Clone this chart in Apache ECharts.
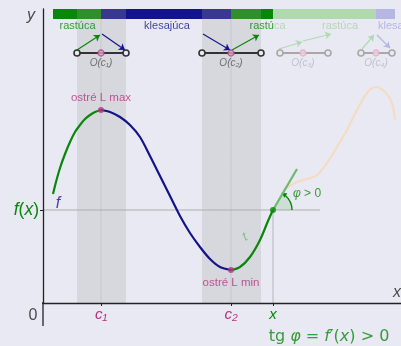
<!DOCTYPE html>
<html>
<head>
<meta charset="utf-8">
<script src="https://cdn.jsdelivr.net/npm/echarts@6/dist/echarts.min.js"></script>
<style>
html, body { margin: 0; padding: 0; background: #e9e9f3; }
#chart { width: 401px; height: 346px; }
</style>
</head>
<body>
<div id="chart"></div>
<script>
// points of f, [x, y]
const riseLeft = [[1.0, 10.9], [1.3, 12.1], [1.7, 13.5], [2.2, 14.9], [2.7, 16.1], [3.2, 17.1], [3.7, 17.8], [4.2, 18.4], [4.7, 18.8], [5.2, 19.1], [5.8, 19.3]];
const fallMid = [[5.8, 19.3], [6.7, 19.1], [7.7, 18.6], [8.7, 17.8], [9.7, 16.6], [10.7, 14.7], [11.7, 12.7], [12.7, 10.7], [13.7, 8.7], [14.7, 7.0], [15.7, 5.6], [16.7, 4.4], [17.7, 3.6], [18.8, 3.3]];
const riseRight = [[18.8, 3.3], [19.7, 3.6], [20.7, 4.6], [21.7, 6.3], [22.5, 8.2], [23.0, 9.3]];
const fadedTail = [[24.0, 11.3], [25.4, 12.1], [26.4, 12.4], [27.4, 12.8], [28.4, 14.0], [29.4, 15.6], [30.4, 17.3], [31.4, 19.3], [32.4, 21.0], [33.3, 21.6], [34.2, 21.1], [34.9, 20.0], [35.2, 18.3]];

const c1 = 5.8, c2 = 18.8, xPt = 23.0, fx = 9.3;
const tangentEnd = [25.4, 13.4];
const bands = [[3.4, 8.3], [15.9, 21.8]];
// monotonicity strip: from, to, kind
const strip = [[1.0, 5.8, 'up'], [5.8, 18.8, 'down'], [18.8, 23.0, 'up'], [23.0, 33.3, 'upFaded'], [33.3, 35.2, 'downFaded']];
// neighbourhoods O(c): left, centre, right, name, faded
const hoods = [[3.4, 5.8, 8.3, 'O(c₁)', false], [15.9, 18.8, 21.8, 'O(c₂)', false], [23.7, 26.0, 28.5, 'O(c₃)', true], [31.8, 33.3, 34.9, 'O(c₄)', true]];
// little arrows over each O(c): x0, y0, x1, y1, kind
const arrows = [
  [3.4, 25.3, 5.7, 26.8, 'up'], [5.9, 26.9, 8.2, 25.3, 'down'],
  [16.0, 26.9, 18.7, 25.3, 'down'], [18.9, 25.3, 21.6, 26.8, 'up'],
  [23.6, 25.4, 25.9, 26.1, 'upFaded'], [26.0, 26.2, 28.8, 26.9, 'upFaded'],
  [31.9, 25.4, 33.1, 26.8, 'upFaded'], [33.4, 26.8, 34.7, 25.5, 'downFaded']
];

const GREEN = '#0a870a', NAVY = '#14148a', MAG = '#b3327f';
const kindColor = { up: GREEN, down: NAVY, upFaded: '#b0d9b0', downFaded: '#b6b6e2' };
const FONT = 'Liberation Sans, DejaVu Sans, sans-serif';
const barLow = 28.4, barHigh = 29.4;

// text notes: text, x, y, style
const notes = [
  ['rastúca', 3.45, 27.75, 'up'],
  ['klesajúca', 12.4, 27.75, 'down'],
  ['{a|rastú}{b|ca}', 22.45, 27.75, 'mixed'],
  ['rastúca', 29.7, 27.75, 'upFaded'],
  ['klesajúca', 33.5, 27.75, 'downFadedLeft'],
  ['y', -1.2, 28.7, 'axisName'],
  ['x', 35.4, 1.0, 'axisName'],
  ['0', -1.0, -1.3, 'zero'],
  ['f', 1.5, 9.9, 'fName'],
  ['{i|φ} > 0', 26.4, 10.9, 'phi'],
  ['t', 20.2, 6.6, 'tangent'],
  ['{n|tg }{i|φ}{n| = }{i|f}{n|′(}{i|x}{n|) > 0}', 28.6, -3.4, 'formula']
];

const MATH = 'DejaVu Sans, sans-serif';
const noteStyle = {
  up: { color: GREEN, fontSize: 11 },
  down: { color: NAVY, fontSize: 11 },
  upFaded: { color: '#a6d3a6', fontSize: 11 },
  downFadedLeft: { color: '#aaaadc', fontSize: 11, align: 'left' },
  mixed: { fontSize: 11, rich: { a: { color: GREEN, fontSize: 11, fontFamily: FONT }, b: { color: '#a6d3a6', fontSize: 11, fontFamily: FONT } } },
  axisName: { color: '#222', fontSize: 16, fontStyle: 'italic' },
  zero: { color: '#222', fontSize: 16 },
  fName: { color: NAVY, fontSize: 16, fontStyle: 'italic' },
  phi: { color: GREEN, fontSize: 12, rich: { i: { color: GREEN, fontSize: 12, fontStyle: 'italic', fontFamily: FONT } } },
  tangent: { color: '#6fb86f', fontSize: 13, fontStyle: 'italic', rotate: 30 },
  formula: { color: GREEN, fontSize: 16, rich: {
    n: { color: GREEN, fontSize: 16, fontFamily: MATH },
    i: { color: GREEN, fontSize: 16, fontStyle: 'italic', fontFamily: MATH } } }
};

const chart = echarts.init(document.getElementById('chart'));

function rectSeries (data, colorOf, z) {
  return {
    type: 'custom',
    z: z,
    silent: true,
    renderItem (params, api) {
      const a = api.coord([api.value(0), api.value(3)]);
      const b = api.coord([api.value(1), api.value(2)]);
      return {
        type: 'rect',
        shape: { x: a[0], y: a[1], width: b[0] - a[0], height: b[1] - a[1] },
        style: { fill: colorOf(params.dataIndex) }
      };
    },
    encode: { x: [0, 1], y: [2, 3] },
    data: data
  };
}

function curve (pts, color, z, width) {
  return {
    type: 'line',
    z: z,
    data: pts,
    showSymbol: false,
    smooth: 0.3,
    clip: false,
    lineStyle: { color: color, width: width || 2.2 },
    silent: true
  };
}

const series = [
  rectSeries(strip.map(s => [s[0], s[1], barLow, barHigh]), i => kindColor[strip[i][2]], 1),
  rectSeries(bands.map(b => [b[0], b[1], 0, barHigh]), () => 'rgba(165,165,158,0.25)', 2),
  // guide lines
  curve([[c1, 0], [c1, barLow]], '#c6c6cc', 3, 1),
  curve([[c2, 0], [c2, barLow]], '#c6c6cc', 3, 1),
  curve([[xPt, 0], [xPt, fx]], '#b4b4b8', 3, 1),
  curve([[0, fx], [27.7, fx]], '#acacae', 3, 1),
  // axis lines run a bit past the origin
  curve([[0, -2.3], [0, 0]], '#222', 4, 1.3),
  curve([[-2.3, 0], [0, 0]], '#222', 4, 1.3),
  // angle wedge and arc
  {
    type: 'custom',
    z: 4,
    silent: true,
    renderItem (params, api) {
      const c = api.coord([api.value(0), api.value(1)]);
      const r = 19, a = 60 * Math.PI / 180;
      const tip = [c[0] + r * Math.cos(a), c[1] - r * Math.sin(a)];
      const d = [-Math.sin(a), -Math.cos(a)];
      const n = [d[1], -d[0]];
      return {
        type: 'group',
        children: [
          { type: 'sector', shape: { cx: c[0], cy: c[1], r0: 0, r: r, startAngle: -a, endAngle: 0, clockwise: true }, style: { fill: 'rgba(60,170,60,0.16)' } },
          { type: 'arc', shape: { cx: c[0], cy: c[1], r: r, startAngle: 0, endAngle: -a + 0.2, clockwise: false }, style: { stroke: GREEN, lineWidth: 1.4, fill: 'none' } },
          { type: 'polygon', shape: { points: [
            [tip[0] + d[0] * 1.5, tip[1] + d[1] * 1.5],
            [tip[0] - d[0] * 4 + n[0] * 2.6, tip[1] - d[1] * 4 + n[1] * 2.6],
            [tip[0] - d[0] * 4 - n[0] * 2.6, tip[1] - d[1] * 4 - n[1] * 2.6]
          ] }, style: { fill: GREEN } }
        ]
      };
    },
    data: [[xPt, fx]]
  },
  curve(fadedTail, '#f3dcc3', 5),
  curve(riseLeft, GREEN, 6),
  curve(fallMid, NAVY, 6),
  curve(riseRight, GREEN, 6),
  curve([[xPt, fx], tangentEnd], '#6fb86f', 7),
  // arrows
  {
    type: 'lines',
    coordinateSystem: 'cartesian2d',
    z: 6,
    silent: true,
    symbol: ['none', 'arrow'],
    symbolSize: 6,
    data: arrows.map(a => ({
      coords: [[a[0], a[1]], [a[2], a[3]]],
      lineStyle: { color: kindColor[a[4]], width: 1.2, opacity: 1 }
    }))
  }
];

// neighbourhood bars
hoods.forEach(h => {
  const line = h[4] ? '#a8a8a8' : '#333';
  series.push({
    type: 'line',
    z: 6,
    silent: true,
    data: [[h[0], 25.0], [h[2], 25.0]],
    symbol: 'circle',
    symbolSize: 6,
    lineStyle: { color: line, width: 2 },
    itemStyle: { color: '#e9e9f3', borderColor: line, borderWidth: 1.6 }
  });
  series.push({
    type: 'scatter',
    z: 7,
    silent: true,
    data: [[h[1], 25.0]],
    symbolSize: 6,
    itemStyle: { color: h[4] ? '#f0d0e0' : '#d9a0c4', borderColor: h[4] ? '#e2a8c8' : '#b04486', borderWidth: 1.4 },
    label: {
      show: true, position: 'bottom', distance: 2, formatter: h[3],
      color: h[4] ? '#b8b8bc' : '#555', fontSize: 10, fontStyle: 'italic', fontFamily: FONT
    }
  });
});

// extreme points and the point x
series.push({
  type: 'scatter',
  z: 8,
  silent: true,
  symbolSize: 6,
  data: [
    { value: [c1, 19.3], itemStyle: { color: MAG }, label: { show: true, position: 'top', distance: 3, formatter: 'ostré L max' } },
    { value: [c2, 3.3], itemStyle: { color: MAG }, label: { show: true, position: 'bottom', distance: 4, formatter: 'ostré L min' } },
    { value: [xPt, fx], itemStyle: { color: GREEN } }
  ],
  label: { color: MAG, fontSize: 11.5, fontFamily: FONT }
});

// free text
series.push({
  type: 'scatter',
  z: 9,
  silent: true,
  clip: false,
  symbolSize: 0,
  data: notes.map(n => ({
    value: [n[1], n[2]],
    label: Object.assign({ show: true, position: 'inside', formatter: n[0], fontFamily: FONT }, noteStyle[n[3]])
  }))
});

const xLabels = { [c1]: '{c|c₁}', [c2]: '{c|c₂}', [xPt]: '{x|x}' };

chart.setOption({
  animation: false,
  grid: { left: 43, right: 0, top: 9, bottom: 43, containLabel: false, outerBoundsMode: 'none' },
  xAxis: {
    type: 'value',
    min: 0,
    max: 35.8,
    z: 10,
    splitLine: { show: false },
    axisLine: { show: true, onZero: false, lineStyle: { color: '#222', width: 1.3 } },
    axisTick: { show: true, customValues: [c1, c2, xPt], length: 3, lineStyle: { color: '#222' } },
    axisLabel: {
      show: true,
      customValues: [c1, c2, xPt],
      margin: 4,
      formatter: v => xLabels[v] || '',
      rich: {
        c: { color: MAG, fontSize: 15, fontStyle: 'italic', fontFamily: FONT },
        x: { color: GREEN, fontSize: 15, fontStyle: 'italic', fontFamily: FONT }
      }
    }
  },
  yAxis: {
    type: 'value',
    min: 0,
    max: 29.4,
    z: 10,
    splitLine: { show: false },
    axisLine: { show: true, onZero: false, lineStyle: { color: '#222', width: 1.3 } },
    axisTick: { show: true, customValues: [fx], length: 3, lineStyle: { color: '#222' } },
    axisLabel: {
      show: true,
      customValues: [fx],
      margin: 4,
      formatter: () => '{i|f}{n|(}{i|x}{n|)}',
      rich: {
        i: { color: GREEN, fontSize: 17.5, fontStyle: 'italic', fontFamily: FONT },
        n: { color: GREEN, fontSize: 17.5, fontFamily: FONT }
      }
    }
  },
  series: series
});
</script>
</body>
</html>
